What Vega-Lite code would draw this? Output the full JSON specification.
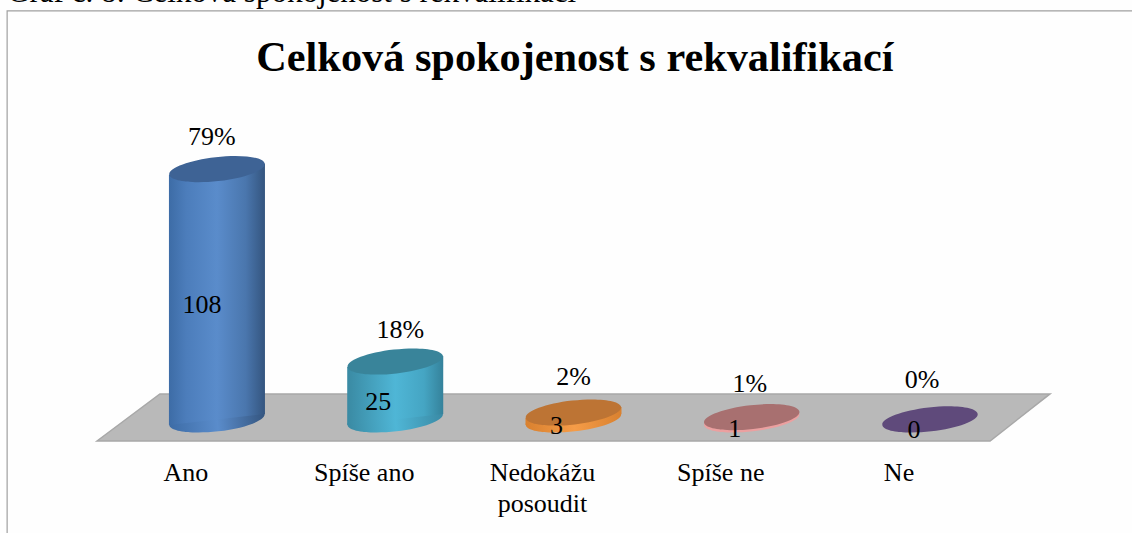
{
"$schema":"https://vega.github.io/schema/vega-lite/v6.json",
"width":1132,"height":533,"padding":0,"autosize":{"type":"none"},"background":"#fefefe",
"config":{"view":{"stroke":null}},
"datasets":{
"answers":[
{"answer":"Ano","label":"Ano","rank":1,"count":108,"share":"79%"},
{"answer":"Spíše ano","label":"Spíše ano","rank":2,"count":25,"share":"18%"},
{"answer":"Nedokážu posoudit","label":"Nedokážu\nposoudit","rank":3,"count":3,"share":"2%"},
{"answer":"Spíše ne","label":"Spíše ne","rank":4,"count":1,"share":"1%"},
{"answer":"Ne","label":"Ne","rank":5,"count":0,"share":"0%"}
],
"floor":[
{"rank":0.327,"back":-9.3,"front":-9.3},
{"rank":0.68,"back":11,"front":-9.3},
{"rank":5.337,"back":11,"front":-9.3},
{"rank":5.673,"back":11,"front":11}
],
"frame":[
{"step":1,"rank":-0.177,"count":-49},
{"step":2,"rank":-0.177,"count":176.3},
{"step":3,"rank":6.133,"count":176.3}
]
},
"data":{"name":"answers"},
"layer":[
{"data":{"name":"floor"},"mark":{"type":"area","fill":"#b9b9b9","stroke":"#a8a8a8","strokeWidth":1.5},
 "encoding":{"x":{"field":"rank","type":"quantitative","axis":null,"scale":{"domain":[-0.217,6.133],"nice":false,"zero":false}},
 "y":{"field":"back","type":"quantitative","axis":null,"scale":{"domain":[-49,181],"nice":false,"zero":false}},"y2":{"field":"front"}}},
{"data":{"name":"frame"},"mark":{"type":"line","color":"#a0a0a0","strokeWidth":1.2},
 "encoding":{"x":{"field":"rank","type":"quantitative","axis":null},"y":{"field":"count","type":"quantitative","axis":null},"order":{"field":"step"}}},
{"data":{"values":[{"caption":"Graf č. 8: Celková spokojenost s rekvalifikací"}]},"mark":{"type":"text","font":"Liberation Serif","fontSize":31,"align":"left","baseline":"alphabetic","color":"#000000"},
 "encoding":{"x":{"datum":-0.177,"type":"quantitative","axis":null},"y":{"datum":180,"type":"quantitative","axis":null},"text":{"field":"caption"}}},
{"data":{"values":[{"heading":"Celková spokojenost s rekvalifikací"}]},"mark":{"type":"text","font":"Liberation Serif","fontSize":42.3,"fontWeight":"bold","align":"center","baseline":"alphabetic","color":"#000000"},
 "encoding":{"x":{"datum":3.008,"type":"quantitative","axis":null},"y":{"datum":150.5,"type":"quantitative","axis":null},"text":{"field":"heading"}}},

{"transform":[{"filter":"datum.rank == 1"}],"layer":[
 {"mark":{"type":"point","filled":true,"opacity":1,"size":9216,"angle":-6.5,"shape":"M-1,0C-1,-0.138,-0.55,-0.25,0,-0.25C0.55,-0.25,1,-0.138,1,0C1,0.138,0.55,0.25,0,0.25C-0.55,0.25,-1,0.138,-1,0Z","fill":{"gradient":"linear","x1":0,"y1":0,"x2":1,"y2":0,"stops":[{"offset":0,"color":"#3d6ca6"},{"offset":0.5,"color":"#5a8ccb"},{"offset":1,"color":"#34557f"}]}},
  "encoding":{"x":{"field":"rank","type":"quantitative","axis":null},"y":{"datum":0,"type":"quantitative","axis":null}}},
 {"transform":[{"calculate":"[-1,1]","as":"side"},{"flatten":["side"]},{"calculate":"datum.rank+datum.side*0.2693","as":"edge"},{"calculate":"datum.count+datum.side*2.4","as":"rim"},{"calculate":"datum.side*2.4","as":"foot"}],
  "mark":{"type":"area","fill":{"gradient":"linear","x1":0,"y1":0,"x2":1,"y2":0,"stops":[{"offset":0,"color":"#3d6ca6"},{"offset":0.18,"color":"#4c7dbb"},{"offset":0.5,"color":"#5a8ccb"},{"offset":0.8,"color":"#4a76ad"},{"offset":1,"color":"#34557f"}]}},
  "encoding":{"x":{"field":"edge","type":"quantitative","axis":null},"y":{"field":"rim","type":"quantitative","axis":null},"y2":{"field":"foot"}}},
 {"mark":{"type":"point","filled":true,"opacity":1,"size":9216,"angle":-6.5,"shape":"M-1,0C-1,-0.138,-0.55,-0.25,0,-0.25C0.55,-0.25,1,-0.138,1,0C1,0.138,0.55,0.25,0,0.25C-0.55,0.25,-1,0.138,-1,0Z","fill":"#3e6395"},
  "encoding":{"x":{"field":"rank","type":"quantitative","axis":null},"y":{"field":"count","type":"quantitative","axis":null}}},
 {"mark":{"type":"text","font":"Liberation Serif","fontSize":26,"color":"#000000","dx":-5,"dy":-32},
  "encoding":{"x":{"field":"rank","type":"quantitative","axis":null},"y":{"field":"count","type":"quantitative","axis":null},"text":{"field":"share"}}},
 {"mark":{"type":"text","font":"Liberation Serif","fontSize":26,"color":"#000000","dx":-15,"dy":136},
  "encoding":{"x":{"field":"rank","type":"quantitative","axis":null},"y":{"field":"count","type":"quantitative","axis":null},"text":{"field":"count","type":"quantitative"}}}
]},

{"transform":[{"filter":"datum.rank == 2"}],"layer":[
 {"mark":{"type":"point","filled":true,"opacity":1,"size":9216,"angle":-6.5,"shape":"M-1,0C-1,-0.138,-0.55,-0.25,0,-0.25C0.55,-0.25,1,-0.138,1,0C1,0.138,0.55,0.25,0,0.25C-0.55,0.25,-1,0.138,-1,0Z","fill":{"gradient":"linear","x1":0,"y1":0,"x2":1,"y2":0,"stops":[{"offset":0,"color":"#3a8aa3"},{"offset":0.5,"color":"#4fb6d6"},{"offset":1,"color":"#3a8aa5"}]}},
  "encoding":{"x":{"field":"rank","type":"quantitative","axis":null},"y":{"datum":0,"type":"quantitative","axis":null}}},
 {"transform":[{"calculate":"[-1,1]","as":"side"},{"flatten":["side"]},{"calculate":"datum.rank+datum.side*0.2693","as":"edge"},{"calculate":"datum.count+datum.side*2.4","as":"rim"},{"calculate":"datum.side*2.4","as":"foot"}],
  "mark":{"type":"area","fill":{"gradient":"linear","x1":0,"y1":0,"x2":1,"y2":0,"stops":[{"offset":0,"color":"#3a8aa3"},{"offset":0.5,"color":"#4fb6d6"},{"offset":0.8,"color":"#45a5c3"},{"offset":1,"color":"#35829b"}]}},
  "encoding":{"x":{"field":"edge","type":"quantitative","axis":null},"y":{"field":"rim","type":"quantitative","axis":null},"y2":{"field":"foot"}}},
 {"mark":{"type":"point","filled":true,"opacity":1,"size":9216,"angle":-6.5,"shape":"M-1,0C-1,-0.138,-0.55,-0.25,0,-0.25C0.55,-0.25,1,-0.138,1,0C1,0.138,0.55,0.25,0,0.25C-0.55,0.25,-1,0.138,-1,0Z","fill":"#39849a"},
  "encoding":{"x":{"field":"rank","type":"quantitative","axis":null},"y":{"field":"count","type":"quantitative","axis":null}}},
 {"mark":{"type":"text","font":"Liberation Serif","fontSize":26,"color":"#000000","dx":5,"dy":-32},
  "encoding":{"x":{"field":"rank","type":"quantitative","axis":null},"y":{"field":"count","type":"quantitative","axis":null},"text":{"field":"share"}}},
 {"mark":{"type":"text","font":"Liberation Serif","fontSize":26,"color":"#000000","dx":-17,"dy":40},
  "encoding":{"x":{"field":"rank","type":"quantitative","axis":null},"y":{"field":"count","type":"quantitative","axis":null},"text":{"field":"count","type":"quantitative"}}}
]},

{"transform":[{"filter":"datum.rank == 3"}],"layer":[
 {"mark":{"type":"point","filled":true,"opacity":1,"size":9216,"angle":-6.5,"shape":"M-1,0C-1,-0.138,-0.55,-0.25,0,-0.25C0.55,-0.25,1,-0.138,1,0C1,0.138,0.55,0.25,0,0.25C-0.55,0.25,-1,0.138,-1,0Z","fill":{"gradient":"linear","x1":0,"y1":0,"x2":1,"y2":0,"stops":[{"offset":0,"color":"#d9812f"},{"offset":0.5,"color":"#f59c48"},{"offset":1,"color":"#d9812f"}]}},
  "encoding":{"x":{"field":"rank","type":"quantitative","axis":null},"y":{"datum":0,"type":"quantitative","axis":null}}},
 {"transform":[{"calculate":"[-1,1]","as":"side"},{"flatten":["side"]},{"calculate":"datum.rank+datum.side*0.2693","as":"edge"},{"calculate":"datum.count+datum.side*2.4","as":"rim"},{"calculate":"datum.side*2.4","as":"foot"}],
  "mark":{"type":"area","fill":{"gradient":"linear","x1":0,"y1":0,"x2":1,"y2":0,"stops":[{"offset":0,"color":"#d9812f"},{"offset":0.5,"color":"#f59c48"},{"offset":1,"color":"#d9812f"}]}},
  "encoding":{"x":{"field":"edge","type":"quantitative","axis":null},"y":{"field":"rim","type":"quantitative","axis":null},"y2":{"field":"foot"}}},
 {"mark":{"type":"point","filled":true,"opacity":1,"size":9216,"angle":-6.5,"shape":"M-1,0C-1,-0.138,-0.55,-0.25,0,-0.25C0.55,-0.25,1,-0.138,1,0C1,0.138,0.55,0.25,0,0.25C-0.55,0.25,-1,0.138,-1,0Z","fill":"#bd7434"},
  "encoding":{"x":{"field":"rank","type":"quantitative","axis":null},"y":{"field":"count","type":"quantitative","axis":null}}},
 {"mark":{"type":"text","font":"Liberation Serif","fontSize":26,"color":"#000000","dx":0,"dy":-35},
  "encoding":{"x":{"field":"rank","type":"quantitative","axis":null},"y":{"field":"count","type":"quantitative","axis":null},"text":{"field":"share"}}},
 {"mark":{"type":"text","font":"Liberation Serif","fontSize":26,"color":"#000000","dx":-17,"dy":14},
  "encoding":{"x":{"field":"rank","type":"quantitative","axis":null},"y":{"field":"count","type":"quantitative","axis":null},"text":{"field":"count","type":"quantitative"}}}
]},

{"transform":[{"filter":"datum.rank == 4"}],"layer":[
 {"mark":{"type":"point","filled":true,"opacity":1,"size":9216,"angle":-6.5,"shape":"M-1,0C-1,-0.138,-0.55,-0.25,0,-0.25C0.55,-0.25,1,-0.138,1,0C1,0.138,0.55,0.25,0,0.25C-0.55,0.25,-1,0.138,-1,0Z","fill":"#eba0a0"},
  "encoding":{"x":{"field":"rank","type":"quantitative","axis":null},"y":{"datum":0,"type":"quantitative","axis":null}}},
 {"mark":{"type":"point","filled":true,"opacity":1,"size":9216,"angle":-6.5,"shape":"M-1,0C-1,-0.138,-0.55,-0.25,0,-0.25C0.55,-0.25,1,-0.138,1,0C1,0.138,0.55,0.25,0,0.25C-0.55,0.25,-1,0.138,-1,0Z","fill":"#a87070"},
  "encoding":{"x":{"field":"rank","type":"quantitative","axis":null},"y":{"field":"count","type":"quantitative","axis":null}}},
 {"mark":{"type":"text","font":"Liberation Serif","fontSize":26,"color":"#000000","dx":-2,"dy":-33},
  "encoding":{"x":{"field":"rank","type":"quantitative","axis":null},"y":{"field":"count","type":"quantitative","axis":null},"text":{"field":"share"}}},
 {"mark":{"type":"text","font":"Liberation Serif","fontSize":26,"color":"#000000","dx":-17,"dy":12},
  "encoding":{"x":{"field":"rank","type":"quantitative","axis":null},"y":{"field":"count","type":"quantitative","axis":null},"text":{"field":"count","type":"quantitative"}}}
]},

{"transform":[{"filter":"datum.rank == 5"}],"layer":[
 {"mark":{"type":"point","filled":true,"opacity":1,"size":9216,"angle":-6.5,"shape":"M-1,0C-1,-0.138,-0.55,-0.25,0,-0.25C0.55,-0.25,1,-0.138,1,0C1,0.138,0.55,0.25,0,0.25C-0.55,0.25,-1,0.138,-1,0Z","fill":"#5f4a7b"},
  "encoding":{"x":{"field":"rank","type":"quantitative","axis":null},"y":{"field":"count","type":"quantitative","axis":null}}},
 {"mark":{"type":"text","font":"Liberation Serif","fontSize":26,"color":"#000000","dx":-8,"dy":-39},
  "encoding":{"x":{"field":"rank","type":"quantitative","axis":null},"y":{"field":"count","type":"quantitative","axis":null},"text":{"field":"share"}}},
 {"mark":{"type":"text","font":"Liberation Serif","fontSize":26,"color":"#000000","dx":-16,"dy":11},
  "encoding":{"x":{"field":"rank","type":"quantitative","axis":null},"y":{"field":"count","type":"quantitative","axis":null},"text":{"field":"count","type":"quantitative"}}}
]},

{"mark":{"type":"text","font":"Liberation Serif","fontSize":26,"color":"#000000","baseline":"middle","dx":-31,"lineBreak":"\n","lineHeight":31},
 "encoding":{"x":{"field":"rank","type":"quantitative","axis":null},"y":{"datum":-23,"type":"quantitative","axis":null},"text":{"field":"label"}}}
]
}
